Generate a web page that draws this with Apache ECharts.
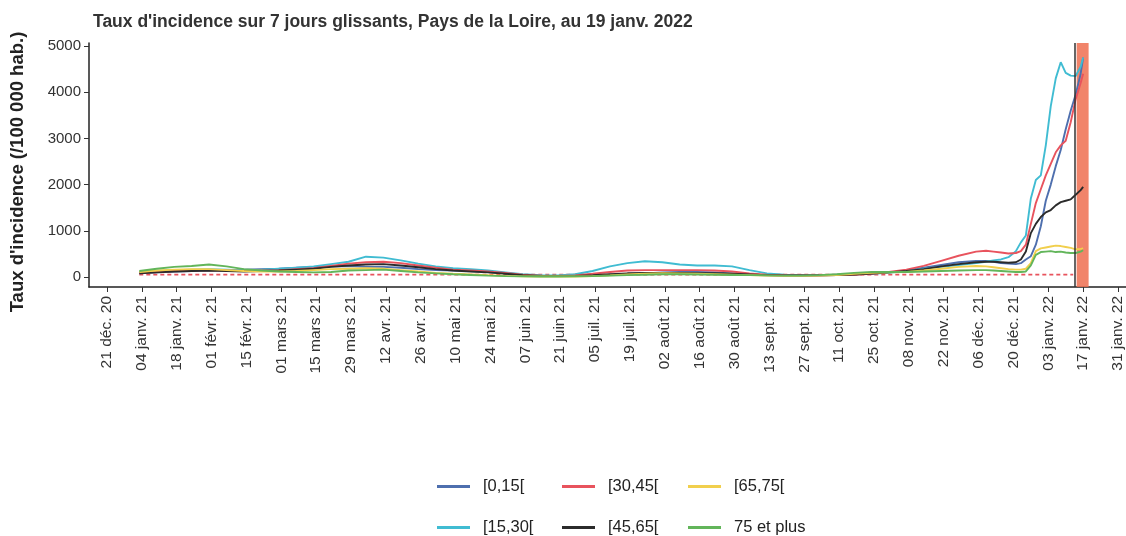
<!DOCTYPE html>
<html>
<head>
<meta charset="utf-8">
<script src="https://cdn.jsdelivr.net/npm/echarts@6/dist/echarts.min.js"></script>
<style>
  html, body { margin: 0; padding: 0; background: #fff; }
  #chart { width: 1126px; height: 536px; }
</style>
</head>
<body>
<div id="chart"></div>
<script>
// jours depuis le 21 déc. 2020
var days = [
  13, 20, 27, 34, 41, 48, 55,
  62, 69, 76, 83, 90, 97, 104,
  111, 118, 125, 132, 139, 146, 153,
  160, 167, 174, 181, 188, 195, 202,
  209, 216, 223, 230, 237, 244, 251,
  258, 265, 272, 279, 286, 293, 300,
  307, 314, 321, 328, 335, 342, 349,
  353, 356, 359, 362, 365, 367, 369, 371, 373, 375,
  377, 379, 381, 383, 385, 387, 389, 391, 392
];

var age0_15 = [
  80, 100, 120, 130, 140, 150, 160,
  170, 180, 200, 220, 230, 240, 220,
  220, 200, 170, 150, 140, 130, 110,
  80, 50, 30, 20, 20, 25, 40,
  60, 80, 100, 110, 110, 100, 80,
  50, 35, 30, 30, 35, 45, 60,
  75, 100, 140, 200, 260, 320, 350,
  350, 330, 300, 290, 280, 300, 380, 450, 700, 1100,
  1650, 2000, 2400, 2750, 3200, 3600, 3950, 4400, 4750
];
var age15_30 = [
  100, 130, 150, 160, 170, 160, 150,
  160, 180, 200, 230, 280, 330, 440,
  420, 360, 290, 230, 190, 170, 140,
  100, 60, 40, 35, 60, 130, 230,
  300, 340, 320, 270, 250, 250, 230,
  150, 80, 50, 40, 40, 50, 60,
  70, 90, 130, 180, 220, 260, 300,
  330, 360, 380, 430, 560, 750, 900, 1700, 2100, 2200,
  2850, 3700, 4300, 4650, 4420, 4360, 4350, 4550, 4750
];
var age30_45 = [
  90, 110, 130, 140, 150, 140, 130,
  140, 150, 170, 190, 240, 290, 320,
  330, 300, 250, 200, 160, 140, 120,
  90, 50, 30, 25, 35, 70, 110,
  140, 150, 150, 150, 150, 140, 120,
  80, 50, 40, 35, 35, 40, 50,
  70, 110, 160, 240, 350, 460, 550,
  570, 550, 530, 510, 520, 560, 700, 1150, 1600, 1900,
  2200, 2450, 2700, 2850, 2950, 3350, 3850, 4200, 4400
];
var age45_65 = [
  80, 100, 120, 130, 140, 130, 120,
  130, 140, 160, 180, 220, 250, 270,
  280, 250, 210, 170, 140, 120, 100,
  70, 40, 25, 20, 25, 40, 60,
  80, 90, 90, 90, 85, 80, 70,
  55, 40, 35, 35, 35, 45, 55,
  75, 100, 130, 170, 230, 280, 320,
  330, 330, 320, 310, 320, 380, 550, 950, 1150, 1300,
  1400, 1450, 1550, 1620, 1650, 1680, 1780, 1880, 1950
];
var age65_75 = [
  110, 140, 160, 170, 170, 150, 130,
  120, 120, 130, 150, 170, 180, 190,
  180, 150, 120, 90, 70, 55, 40,
  25, 15, 10, 10, 12, 20, 35,
  55, 70, 80, 75, 70, 60, 50,
  40, 30, 25, 25, 30, 45, 70,
  90, 100, 110, 140, 180, 220, 240,
  230, 210, 190, 170, 160, 160, 180, 300, 560, 620,
  640, 660, 680, 670, 650, 630, 600, 610, 620
];
var age75plus = [
  130, 180, 220, 240, 270, 230, 170,
  140, 120, 110, 100, 110, 140, 150,
  160, 130, 100, 80, 60, 45, 30,
  20, 15, 12, 12, 15, 20, 30,
  40, 50, 60, 60, 55, 50, 45,
  40, 35, 30, 30, 40, 60, 90,
  110, 110, 110, 120, 130, 140, 150,
  150, 140, 130, 120, 110, 110, 120, 250, 480, 540,
  550, 560, 540, 550, 530, 520, 520, 550, 580
];

var seriesNames = ['[0,15[', '[15,30[', '[30,45[', '[45,65[', '[65,75[', '75 et plus'];
var seriesValues = [age0_15, age15_30, age30_45, age45_65, age65_75, age75plus];
var seriesColors = ['#4e6fae', '#40bcd2', '#e8535d', '#2b2b2b', '#f1cf4d', '#62b55a'];

var thresholdDays = [13, 388];
var thresholdValue = 50;
var cutoffDay = 388.6;
var partialDays = [389.4, 394.2];

var tickDays = [];
for (var t = 0; t <= 406; t += 14) tickDays.push(t);
var tickLabels = [
  '21 déc. 20', '04 janv. 21', '18 janv. 21', '01 févr. 21', '15 févr. 21',
  '01 mars 21', '15 mars 21', '29 mars 21', '12 avr. 21', '26 avr. 21',
  '10 mai 21', '24 mai 21', '07 juin 21', '21 juin 21', '05 juil. 21',
  '19 juil. 21', '02 août 21', '16 août 21', '30 août 21', '13 sept. 21',
  '27 sept. 21', '11 oct. 21', '25 oct. 21', '08 nov. 21', '22 nov. 21',
  '06 déc. 21', '20 déc. 21', '03 janv. 22', '17 janv. 22', '31 janv. 22'
];
var yTicks = [0, 1000, 2000, 3000, 4000, 5000];

var font = 'Liberation Sans';
var chart = echarts.init(document.getElementById('chart'));

var series = seriesNames.map(function (name, i) {
  return {
    name: name,
    type: 'line',
    symbol: 'none',
    z: 3,
    data: days.map(function (d, j) { return [d, seriesValues[i][j]]; }),
    lineStyle: { width: 1.9, color: seriesColors[i] },
    itemStyle: { color: seriesColors[i] }
  };
});

series.push({
  name: 'seuil',
  type: 'line',
  symbol: 'none',
  z: 2,
  data: thresholdDays.map(function (d) { return [d, thresholdValue]; }),
  lineStyle: { width: 1.8, color: '#e8535d', type: [4, 3] },
  markArea: {
    silent: true,
    itemStyle: { color: 'rgba(238,110,80,0.85)' },
    data: [[{ xAxis: partialDays[0] }, { xAxis: partialDays[1] }]]
  },
  markLine: {
    silent: true,
    symbol: 'none',
    label: { show: false },
    lineStyle: { color: '#333', width: 1.5, type: 'solid' },
    data: [{ xAxis: cutoffDay }]
  }
});

var legendLeft = [432, 557, 683];
var legendTop = [473, 514];
var legendOrder = ['[0,15[', '[30,45[', '[65,75[', '[15,30[', '[45,65[', '75 et plus'];
var legends = legendOrder.map(function (name, i) {
  return {
    data: [name],
    left: legendLeft[i % 3],
    top: legendTop[Math.floor(i / 3)],
    icon: 'rect',
    itemWidth: 33,
    itemHeight: 3,
    selectedMode: false,
    textStyle: { fontFamily: font, fontSize: 16.5, color: '#222', padding: [0, 0, 0, 8] }
  };
});

var option = {
  animation: false,
  backgroundColor: '#fff',
  title: {
    text: "Taux d'incidence sur 7 jours glissants, Pays de la Loire, au 19 janv. 2022",
    left: 88,
    top: 8,
    textStyle: { fontFamily: font, fontSize: 17.5, fontWeight: 'bold', color: '#333' }
  },
  legend: legends,
  grid: { left: 88, right: 0, top: 43, bottom: 249, containLabel: false },
  xAxis: {
    type: 'value',
    min: -7.2,
    max: 409.1,
    splitLine: { show: false },
    axisLine: { onZero: false, lineStyle: { color: '#222', width: 1.5 } },
    axisTick: { customValues: tickDays, length: 5, lineStyle: { color: '#333' } },
    axisLabel: {
      customValues: tickDays,
      rotate: 90,
      margin: 9,
      fontFamily: font,
      fontSize: 15.5,
      color: '#333',
      formatter: function (v) {
        var k = tickDays.indexOf(v);
        return k >= 0 ? tickLabels[k] : '';
      }
    }
  },
  yAxis: {
    type: 'value',
    min: -216,
    max: 5065,
    name: "Taux d'incidence (/100 000 hab.)",
    nameLocation: 'middle',
    nameGap: 62,
    nameTextStyle: { fontFamily: font, fontSize: 18.5, fontWeight: 'bold', color: '#222', padding: [0, 14, 0, 0] },
    splitLine: { show: false },
    axisLine: { show: true, onZero: false, lineStyle: { color: '#222', width: 1.5 } },
    axisTick: { show: true, customValues: yTicks, length: 5, lineStyle: { color: '#333' } },
    axisLabel: {
      customValues: yTicks,
      margin: 8,
      fontFamily: font,
      fontSize: 15,
      color: '#333',
      formatter: function (v) { return String(v); }
    }
  },
  series: series
};

chart.setOption(option);
</script>
</body>
</html>
